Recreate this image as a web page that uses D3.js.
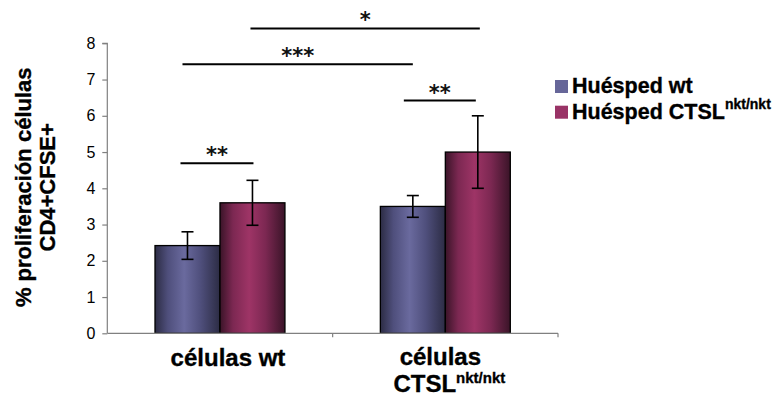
<!DOCTYPE html>
<html><head><meta charset="utf-8">
<script src="https://cdn.jsdelivr.net/npm/d3@7"></script>
<style>
body{margin:0;background:#fff;}
text{font-family:"Liberation Sans",Arial,sans-serif;}
.b{font-weight:bold;stroke:#000;stroke-width:0.35px;}
</style></head>
<body><svg id="c" width="776" height="396"></svg>
<script>
const categories = ["células wt", "células CTSL"];
const seriesNames = ["Huésped wt", "Huésped CTSL"];
const meanWt = [2.42, 3.50];
const meanCtsl = [3.60, 5.00];
const errWt = [0.38, 0.30];
const errCtsl = [0.62, 1.00];
const yTicks = [0,1,2,3,4,5,6,7,8];
// significance brackets: from [cat, series] to [cat, series], level, label
const sigFrom = [[0,0],[1,0],[0,0],[0,1]];
const sigTo   = [[0,1],[1,1],[1,0],[1,1]];
const sigLevel = [4.69, 6.42, 7.42, 8.41];
const sigLabel = ["**", "**", "***", "*"];

(function(){
const svg = d3.select("#c");
const mLeft = 107.3, mRight = 558, mTop = 43.3, mBottom = 333.3;
const y = d3.scaleLinear().domain([0,8]).range([mBottom, mTop]);
const x0 = d3.scaleBand().domain(categories).range([mLeft, mRight]).padding(0);
const x1 = d3.scaleBand().domain(seriesNames).range([0, x0.bandwidth()]).paddingInner(0).paddingOuter(0.734);

const defs = svg.append("defs");
function grad(id, dark, mid, light){
  const g = defs.append("linearGradient").attr("id", id).attr("x1","0").attr("x2","1").attr("y1","0").attr("y2","0");
  [[0,dark],[0.2,mid],[0.45,light],[0.7,mid],[1,dark]].forEach(([o,c])=>g.append("stop").attr("offset",o).attr("stop-color",c));
}
grad("gBlue", "#2c2c44", "#4f4f7c", "#6a6a9e");
grad("gMag", "#3a1428", "#7c2852", "#9e3466");
const fills = ["url(#gBlue)", "url(#gMag)"];
const solid = ["#666699", "#993366"];

const means = [meanWt, meanCtsl];
const errs = [errWt, errCtsl];

// y axis
const yAxis = d3.axisLeft(y).tickValues(yTicks).tickSize(5).tickPadding(7).tickFormat(d3.format("d"));
const ya = svg.append("g").attr("transform", `translate(${mLeft},0)`).call(yAxis);
ya.select(".domain").attr("stroke","#808080").attr("stroke-width",1.2).attr("d", `M-5,${mTop}H0V${mBottom}`);
ya.selectAll(".tick line").attr("stroke","#808080").attr("stroke-width",1.2);
ya.selectAll(".tick text").attr("font-size",16).attr("fill","#000").style("font-family","Liberation Sans, Arial");

// bars
categories.forEach((c, ci) => {
  seriesNames.forEach((s, si) => {
    const v = means[si][ci];
    svg.append("rect")
      .attr("x", x0(c) + x1(s)).attr("y", y(v))
      .attr("width", x1.bandwidth()).attr("height", y(0) - y(v))
      .attr("fill", fills[si]).attr("stroke", "#000").attr("stroke-width", 1.3);
  });
});

// x axis
svg.append("line").attr("x1", mLeft).attr("x2", mRight).attr("y1", mBottom).attr("y2", mBottom)
  .attr("stroke","#808080").attr("stroke-width",1.2);
categories.forEach((c) => {
  const xx = x0(c) + x0.bandwidth();
  svg.append("line").attr("x1", xx).attr("x2", xx).attr("y1", mBottom).attr("y2", mBottom + 4).attr("stroke","#808080").attr("stroke-width",1.2);
});

// error bars
categories.forEach((c, ci) => {
  seriesNames.forEach((s, si) => {
    const cx = x0(c) + x1(s) + x1.bandwidth()/2;
    const v = means[si][ci], e = errs[si][ci];
    const g = svg.append("g").attr("stroke","#000").attr("stroke-width",1.6);
    g.append("line").attr("x1",cx).attr("x2",cx).attr("y1",y(v+e)).attr("y2",y(v-e));
    g.append("line").attr("x1",cx-6).attr("x2",cx+6).attr("y1",y(v+e)).attr("y2",y(v+e));
    g.append("line").attr("x1",cx-6).attr("x2",cx+6).attr("y1",y(v-e)).attr("y2",y(v-e));
  });
});

// significance
const offs = [[-7, 1], [-9, -2], [-5, 0], [-2, 2]];
sigLevel.forEach((lv, i) => {
  const a = sigFrom[i], b = sigTo[i];
  const xa = x0(categories[a[0]]) + x1(seriesNames[a[1]]) + x1.bandwidth()/2 + offs[i][0];
  const xb = x0(categories[b[0]]) + x1(seriesNames[b[1]]) + x1.bandwidth()/2 + offs[i][1];
  svg.append("line").attr("x1", xa).attr("x2", xb).attr("y1", y(lv)).attr("y2", y(lv))
    .attr("stroke","#000").attr("stroke-width",2);
  svg.append("text").attr("x", (xa+xb)/2).attr("y", y(lv) - 1)
    .attr("text-anchor","middle").attr("font-size",21).attr("font-weight","bold")
    .style("font-family","DejaVu Sans").attr("fill","#111").text(sigLabel[i]);
});

// x labels
svg.append("text").attr("class","b").attr("x", x0(categories[0]) + x0.bandwidth()/2 + 8).attr("y", 366)
  .attr("text-anchor","middle").attr("font-size",24).text("células wt");
const cx2 = x0(categories[1]) + x0.bandwidth()/2;
svg.append("text").attr("class","b").attr("x", cx2 - 5).attr("y", 365)
  .attr("text-anchor","middle").attr("font-size",24).text("células");
const t2 = svg.append("text").attr("class","b").attr("x", cx2 + 4).attr("y", 392)
  .attr("text-anchor","middle").attr("font-size",24);
t2.append("tspan").text("CTSL");
t2.append("tspan").attr("font-size",15).attr("dy",-9).text("nkt/nkt");

// y title
const yt = svg.append("text").attr("class","b").attr("transform", `translate(0,${(mTop+mBottom)/2 - 1}) rotate(-90)`)
  .attr("text-anchor","middle").attr("font-size",22);
yt.append("tspan").attr("x",0).attr("y",31).text("% proliferación células");
yt.append("tspan").attr("x",0).attr("y",55).text("CD4+CFSE+");

// legend
seriesNames.forEach((s, i) => {
  const ly = 80 + i * 25.7;
  svg.append("rect").attr("x",555).attr("y",ly).attr("width",13).attr("height",13).attr("fill",solid[i]);
  const t = svg.append("text").attr("class","b").attr("x",572).attr("y",ly+13).attr("font-size",21.5);
  t.append("tspan").text(s);
  if (i === 1) t.append("tspan").attr("font-size",14).attr("dy",-10).text("nkt/nkt");
});
})();
</script></body></html>
